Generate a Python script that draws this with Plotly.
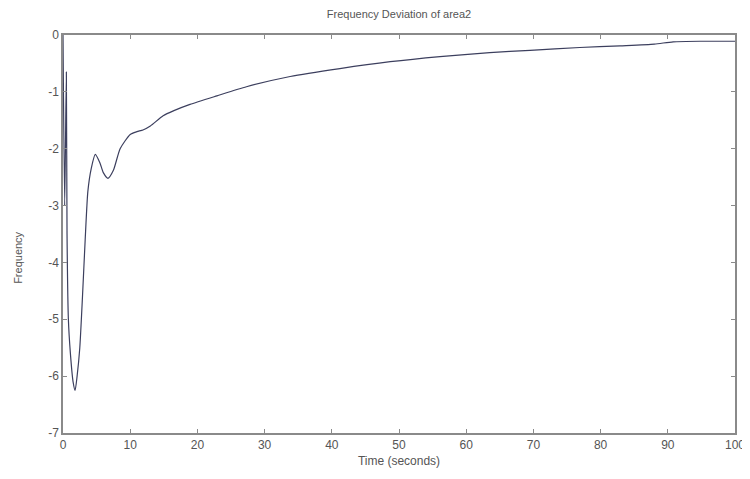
import plotly.graph_objects as go

# Data
time_s = [0, 0.25, 0.5, 0.6, 0.8, 1.1, 1.5, 1.8, 2.1, 2.5, 2.9, 3.3, 3.7, 4.2, 4.8,
          5.5, 6.0, 6.7, 7.5, 8.5, 10.0, 11.0, 11.9, 13.0, 14.9, 16.5, 18.9, 22.9,
          27.3, 33.8, 41.2, 48.7, 56.1, 63.5, 69.5, 76.9, 82.9, 88.0, 90.8, 95.0, 100.0]
freq_dev = [0, -3.0, -0.65, -3.5, -5.0, -5.6, -6.1, -6.25, -6.0, -5.5, -4.6, -3.6, -2.75,
            -2.35, -2.1, -2.25, -2.42, -2.52, -2.38, -2.0, -1.75, -1.7, -1.67, -1.6,
            -1.42, -1.33, -1.22, -1.07, -0.91, -0.73, -0.59, -0.47, -0.38, -0.31,
            -0.27, -0.22, -0.19, -0.16, -0.12, -0.11, -0.11]

x_ticks = [0, 10, 20, 30, 40, 50, 60, 70, 80, 90, 100]
x_labels = [str(v) for v in x_ticks]
y_ticks = [0, -1, -2, -3, -4, -5, -6, -7]
y_labels = ["0", "-1", "-2", "-3", "-4", "-5", "-6", "-7"]

title_text = "Frequency Deviation of area2"
x_title = "Time (seconds)"
y_title = "Frequency"

font_family = "Liberation Sans, Arial, sans-serif"
text_color = "#555555"
axis_color = "#8a8a8a"

fig = go.Figure()
fig.add_trace(go.Scatter(
    x=time_s, y=freq_dev, mode="lines",
    line=dict(color="#3c3f5e", width=1.2, shape="spline", smoothing=0.6),
    showlegend=False,
))

axis_common = dict(
    showgrid=False, zeroline=False, showline=True, linecolor=axis_color, linewidth=1.5,
    mirror="allticks", ticks="inside", ticklen=4, tickcolor=axis_color,
    tickfont=dict(family=font_family, size=12, color=text_color),
    automargin=False,
)

# the page places the figure 8px in from the top-left corner
fig.update_layout(
    width=742, height=471,
    margin=dict(l=55, r=15, t=27, b=46),
    paper_bgcolor="white", plot_bgcolor="white",
    font=dict(family=font_family, color=text_color),
    title=dict(text=title_text, xref="paper", x=0.5, xanchor="center",
               y=0.986, yanchor="middle", automargin=False,
               font=dict(family=font_family, size=11, color=text_color)),
    xaxis=dict(range=[0, 100], tickvals=x_ticks, ticktext=x_labels,
               title=dict(text=x_title, standoff=5,
                          font=dict(family=font_family, size=12, color=text_color)),
               **axis_common),
    yaxis=dict(range=[-7, 0], tickvals=y_ticks, ticktext=y_labels, **axis_common),
    annotations=[dict(text=y_title, textangle=-90, xref="paper", yref="paper",
                      x=-0.067, y=0.44, xanchor="center", yanchor="middle",
                      showarrow=False,
                      font=dict(family=font_family, size=11, color=text_color))],
)

fig.write_html("out.html")
